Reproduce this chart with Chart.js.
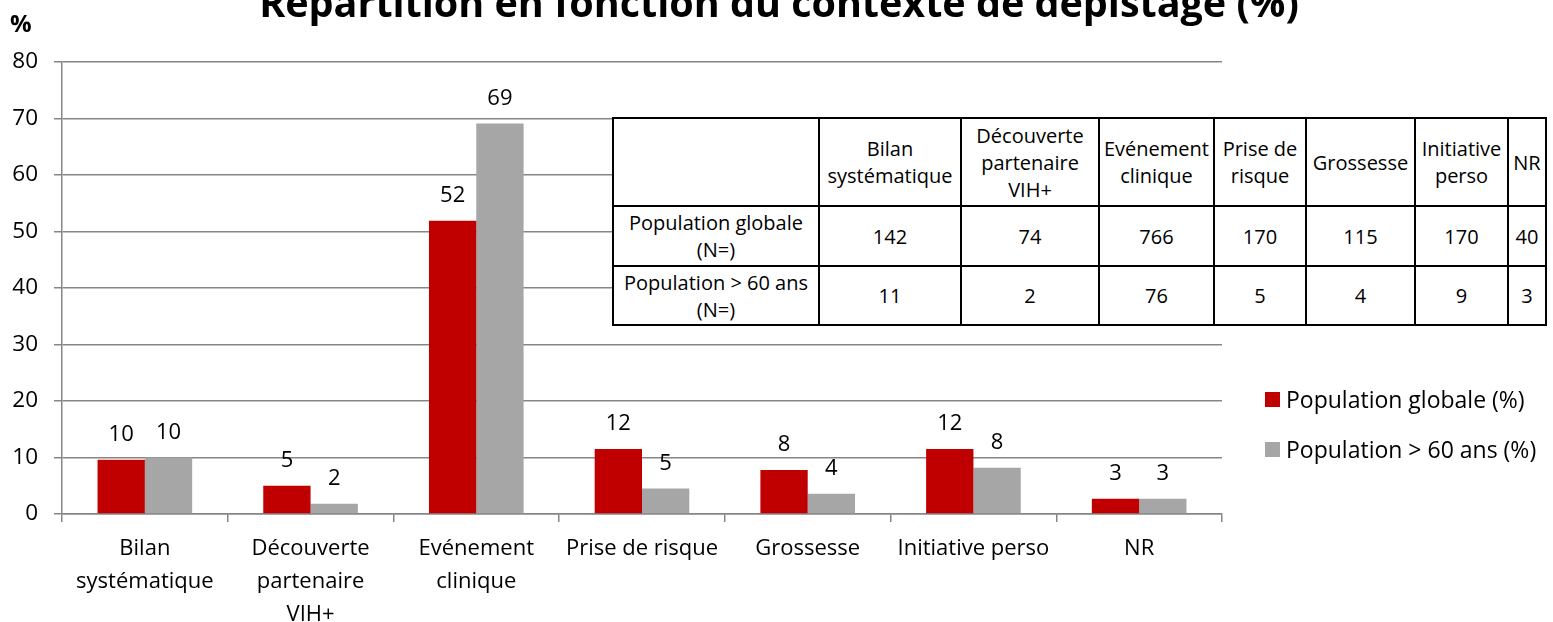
<!DOCTYPE html>
<html>
<head>
<meta charset="utf-8">
<script src="https://cdn.jsdelivr.net/npm/chart.js@4/dist/chart.umd.min.js"></script>
<style>
  body { margin: 0; background: #fff; font-family: "Open Sans", sans-serif; }
  #wrap { position: relative; width: 1553px; height: 622px; overflow: hidden; }
  #chart { position: absolute; left: 0; top: 0; }
  #tbl {
    position: absolute; left: 612px; top: 117px; width: 933px; height: 207px;
    border-collapse: collapse; table-layout: fixed; background: #fff;
    font-size: 20px; line-height: 27px; color: #000;
  }
  #tbl td { border: 2px solid #000; text-align: center; vertical-align: middle; padding: 0; overflow: hidden; white-space: nowrap; }
  #legend { position: absolute; left: 1265px; top: 380px; font-size: 23px; color: #000; }
  #legend div { position: relative; height: 50px; line-height: 38px; padding-left: 21px; }
  #legend span { position: absolute; left: 0; top: 12px; width: 15px; height: 15px; }
</style>
</head>
<body>
<div id="wrap">
  <canvas id="chart" width="1553" height="622"></canvas>
  <table id="tbl"></table>
  <div id="legend"></div>
</div>
<script>
// categories (axis labels, split in lines) and table headers
const categories = [
  ['Bilan', 'systématique'],
  ['Découverte', 'partenaire', 'VIH+'],
  ['Evénement', 'clinique'],
  'Prise de risque',
  'Grossesse',
  'Initiative perso',
  'NR'
];
const tableHeaders = [
  ['Bilan', 'systématique'],
  ['Découverte', 'partenaire', 'VIH+'],
  ['Evénement', 'clinique'],
  ['Prise de', 'risque'],
  ['Grossesse'],
  ['Initiative', 'perso'],
  ['NR']
];

// percentages
const globalPct = [9.6, 5.0, 51.9, 11.5, 7.8, 11.5, 2.7];
const seniorPct = [10.0, 1.8, 69.1, 4.5, 3.6, 8.2, 2.7];

// counts (N=)
const globalN = [142, 74, 766, 170, 115, 170, 40];
const seniorN = [11, 2, 76, 5, 4, 9, 3];

const seriesNames = ['Population globale (%)', 'Population > 60 ans (%)'];
const rowNames = [['Population globale', '(N=)'], ['Population > 60 ans', '(N=)']];
const colors = ['#C00000', '#A6A6A6'];

const titleText = 'Répartition en fonction du contexte de dépistage (%)';
const FONT = '"Open Sans", sans-serif';
const AXIS = '#868686';

// table
const colWidths = [206, 142, 138, 115, 92, 109, 93, 38];
const rowHeights = [88, 60, 59];
const tbl = document.getElementById('tbl');
let html = '<colgroup>' + colWidths.map(w => `<col style="width:${w}px">`).join('') + '</colgroup>';
html += `<tr style="height:${rowHeights[0]}px"><td></td>` + tableHeaders.map(h => `<td>${h.join('<br>')}</td>`).join('') + '</tr>';
[globalN, seniorN].forEach((row, r) => {
  html += `<tr style="height:${rowHeights[r + 1]}px"><td>${rowNames[r].join('<br>')}</td>` + row.map(v => `<td>${v}</td>`).join('') + '</tr>';
});
tbl.innerHTML = html;

// legend
document.getElementById('legend').innerHTML = seriesNames
  .map((n, i) => `<div><span style="background:${colors[i]}"></span>${n.replace('>', '&gt;')}</div>`).join('');

// value labels above the bars + title + "%" unit
const overlay = {
  id: 'overlay',
  afterDatasetsDraw(chart) {
    const ctx = chart.ctx;
    ctx.save();
    ctx.fillStyle = '#000';
    ctx.font = `22px ${FONT}`;
    ctx.textAlign = 'center';
    ctx.textBaseline = 'alphabetic';
    chart.data.datasets.forEach((ds, di) => {
      chart.getDatasetMeta(di).data.forEach((el, i) => {
        ctx.fillText(String(Math.round(ds.data[i])), el.x, el.y - 19);
      });
    });

    ctx.font = `bold 39.5px ${FONT}`;
    ctx.fillText(titleText, 779, 17);

    ctx.font = `bold 24px ${FONT}`;
    ctx.textAlign = 'left';
    ctx.fillText('%', 10, 32);
    ctx.restore();
  }
};

new Chart(document.getElementById('chart'), {
  type: 'bar',
  data: {
    labels: categories,
    datasets: [
      { label: seriesNames[0], data: globalPct, backgroundColor: colors[0] },
      { label: seriesNames[1], data: seniorPct, backgroundColor: colors[1] }
    ]
  },
  options: {
    responsive: false,
    animation: false,
    layout: { padding: { top: 62, right: 331, left: 0, bottom: 0 } },
    datasets: { bar: { categoryPercentage: 0.571, barPercentage: 1.0 } },
    plugins: { legend: { display: false }, tooltip: { enabled: false }, title: { display: false } },
    scales: {
      x: {
        afterFit(scale) { scale.height = 108; },
        grid: { offset: true, drawOnChartArea: false, drawTicks: true, tickLength: 8, color: AXIS, lineWidth: 1.5 },
        border: { color: AXIS, width: 1.5 },
        ticks: { color: '#000', font: { family: FONT, size: 22, lineHeight: 1.5 }, padding: 10, maxRotation: 0, autoSkip: false }
      },
      y: {
        min: 0,
        max: 80,
        afterFit(scale) { scale.width = 62; },
        grid: { color: AXIS, lineWidth: 1.5, tickLength: 8 },
        border: { color: AXIS, width: 1.5 },
        ticks: { stepSize: 10, color: '#000', font: { family: FONT, size: 22.5 }, padding: 16 }
      }
    }
  },
  plugins: [overlay]
});
</script>
</body>
</html>
